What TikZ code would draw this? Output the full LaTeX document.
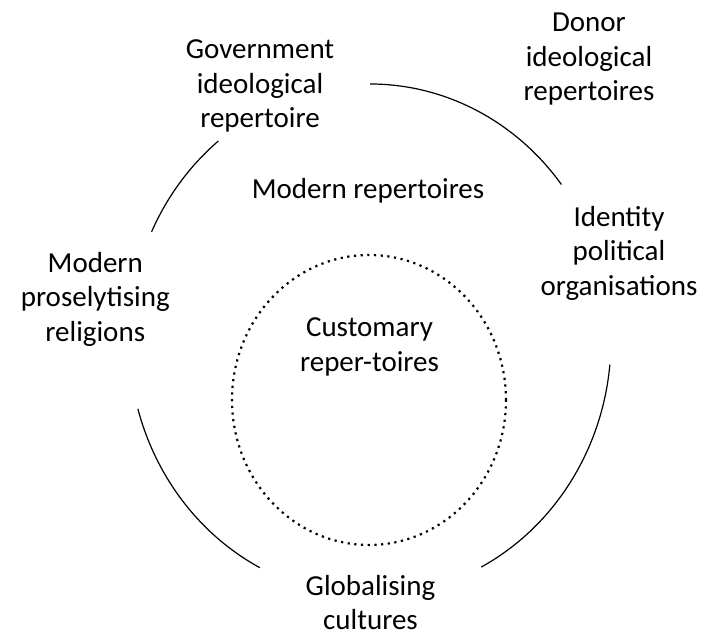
\documentclass[tikz,border=0pt]{standalone}
\usepackage{fontspec}
\setmainfont{Carlito}
\begin{document}
\begin{tikzpicture}[x=1bp, y=1bp,
        lbl/.style={align=center, inner sep=0pt, font=\fontsize{29bp}{34.5bp}\selectfont}]
        \useasboundingbox (0,0) rectangle (717,633);

        % Vòng ngoài
        \coordinate (outer) at (370,293);
        \foreach \s/\e in {90/37.4, -5.5/-62.5, 195.6/242.8, 129/155}
            \draw[line width=1.2bp] (outer) ++(\s:241 and 256) arc[start angle=\s, end angle=\e, x radius=241, y radius=256];

        % Vòng trong
        \coordinate (inner) at (369,233);
        \draw[line width=2.2bp, dash pattern=on 2.2bp off 4.5bp] (inner) ellipse [x radius=137, y radius=145];

        % Nhãn
        \node[lbl] (gov) at (260,546.8) {Government\\ideological\\repertoire};
        \node[lbl] (donor) at (589,573.8) {Donor\\ideological\\repertoires};
        \node[lbl] (modern) at (368,442.4) {Modern repertoires};
        \node[lbl] (identity) at (619,379.6) {Identity\\political\\organisations};
        \node[lbl] (religions) at (95.3,333.6) {Modern\\proselytising\\religions};
        \node[lbl] (customary) at (369.5,286.3) {Customary\\reper-toires};
        \node[lbl] (global) at (370.5,30.5) {Globalising\\cultures};
    \end{tikzpicture}
\end{document}
